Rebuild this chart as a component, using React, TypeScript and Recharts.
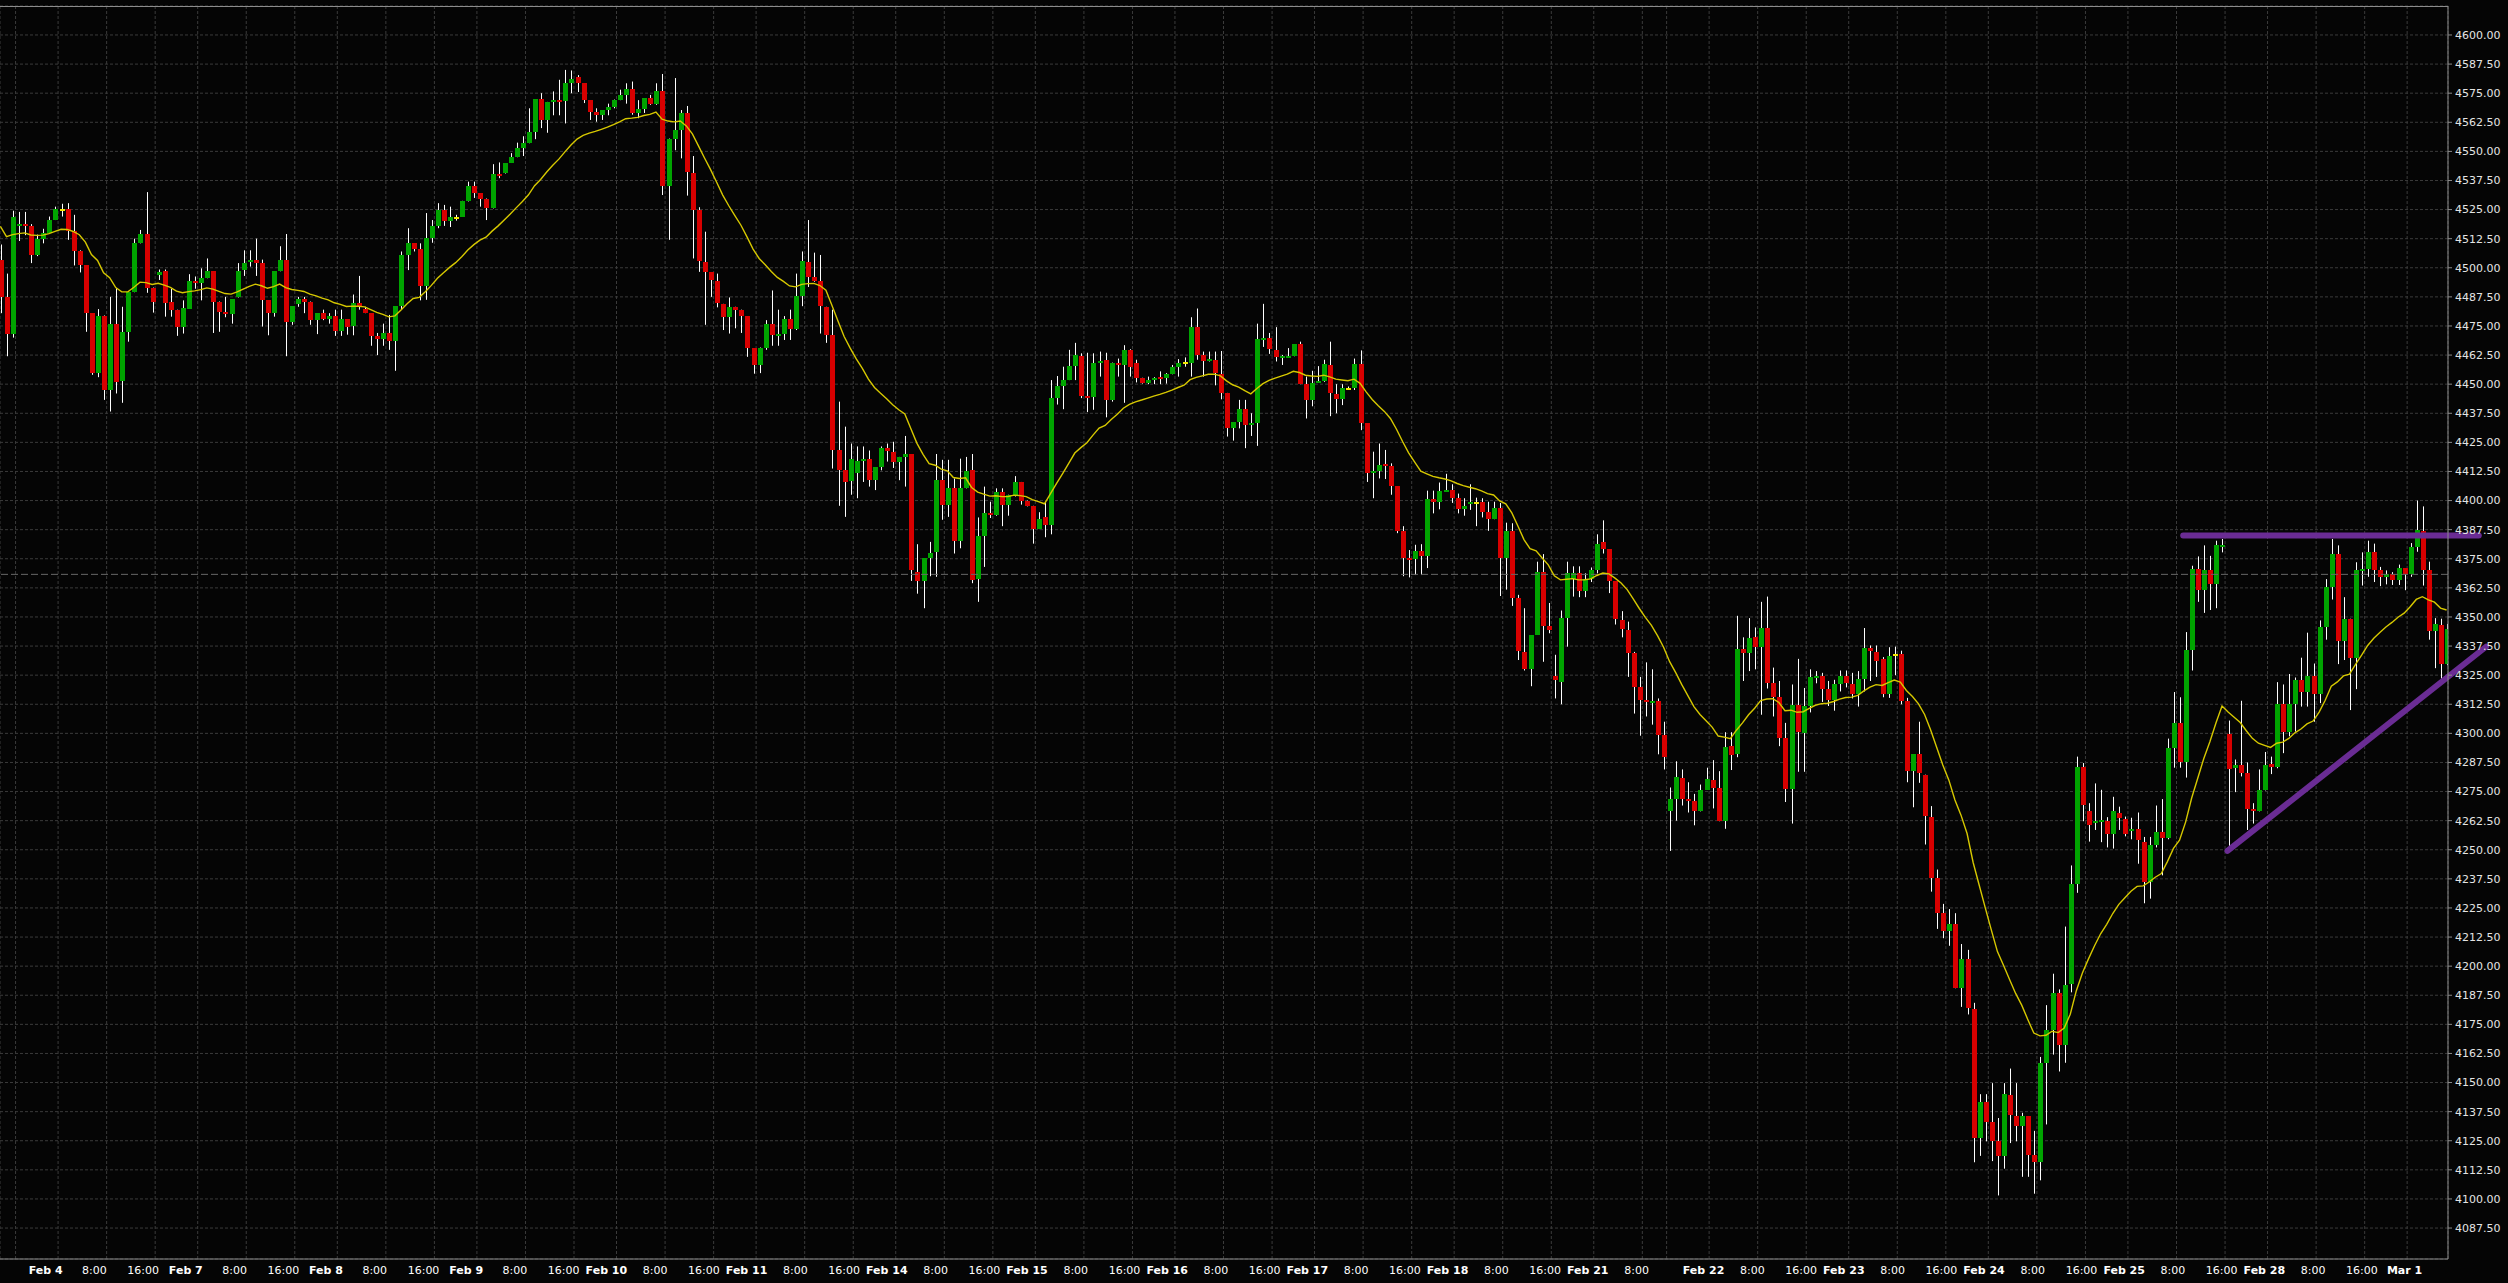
import { ComposedChart, Bar, Line, XAxis, YAxis, CartesianGrid, ReferenceLine } from "recharts";

// hourly candles [open, high, low, close], grouped by the session label they fall under
const feb03 = [
  [4503.5, 4510, 4480.5, 4487.25], [4487.25, 4497.5, 4462, 4471.75], [4471.75, 4524.5, 4470, 4522],
  [4518.25, 4524, 4511.5, 4519], [4519, 4524, 4514, 4517.75], [4517.75, 4518.75, 4502, 4505.5],
  [4505.5, 4514.25, 4505, 4512.5], [4512.5, 4516.75, 4510.5, 4515], [4515, 4522, 4514.75, 4520.5],
  [4520.5, 4526.25, 4520.5, 4525.25],
];
const feb04 = [
  [4525, 4527.5, 4522, 4525], [4525.25, 4527.75, 4512, 4515.75], [4515.75, 4522.75, 4501, 4507.25],
  [4507.25, 4507.5, 4498, 4501], [4501, 4501, 4472.5, 4480.75], [4480.5, 4480.5, 4454, 4455],
  [4455, 4482.25, 4453, 4479.25], [4479.25, 4479.5, 4443.25, 4447.5], [4447.5, 4487.5, 4438.25, 4475.75],
  [4475.75, 4491.25, 4446, 4451], [4451.5, 4483.25, 4442, 4472.5], [4472.5, 4489.75, 4468.25, 4489.5],
  [4489.5, 4512.5, 4489.5, 4510.5], [4510.5, 4516.25, 4510.5, 4514.5], [4514.5, 4532.5, 4489.25, 4491.5],
  [4491.5, 4491.5, 4480.75, 4485.5], [4497, 4499.25, 4494.75, 4498.25], [4498.5, 4499.25, 4479, 4485],
  [4485.25, 4491, 4479, 4482], [4482, 4482, 4470.75, 4474.75], [4474.75, 4486, 4471.75, 4482.75],
  [4482.5, 4497.25, 4482.5, 4494.25], [4494.25, 4496.25, 4491, 4493.5],
];
const feb07 = [
  [4493.5, 4499.75, 4486, 4495.5], [4495.5, 4504, 4495.5, 4498.5], [4498.5, 4498.5, 4472, 4485.5],
  [4485.5, 4485.5, 4472.5, 4481], [4481, 4487.5, 4478.75, 4480], [4480, 4486.5, 4476, 4486.5],
  [4487.25, 4502, 4487.25, 4498.5], [4499.25, 4507.5, 4496.5, 4502], [4502.5, 4507.5, 4500.5, 4503.25],
  [4503.25, 4512.5, 4496.5, 4502], [4502, 4503.5, 4474.75, 4486], [4486, 4486, 4471, 4480.75],
  [4480.75, 4498.5, 4479, 4498.5], [4498.5, 4509.25, 4498.5, 4503.5], [4503.5, 4514.5, 4462, 4476.75],
  [4476.5, 4483.5, 4475.5, 4483.5], [4484.25, 4487.5, 4483.25, 4486.5], [4486.5, 4487.5, 4480.5, 4485.5],
  [4485.5, 4485.5, 4475.5, 4477.75], [4477.75, 4480.5, 4471.5, 4480.5], [4480.5, 4482, 4477.5, 4478],
  [4478, 4480.5, 4476, 4479.25], [4479.25, 4482, 4470.75, 4473],
];
const feb08 = [
  [4473, 4482, 4470.75, 4478], [4478, 4478, 4471.25, 4474.75], [4475, 4488.5, 4471, 4484.75],
  [4484.75, 4496.5, 4482, 4483.25], [4482.25, 4483.25, 4480.5, 4480.5], [4480.5, 4480.5, 4466.5, 4470.5],
  [4470.5, 4472, 4462.5, 4469.5], [4469.5, 4476, 4466.5, 4472], [4472, 4479.75, 4464.75, 4468.75],
  [4468.75, 4483.5, 4455.75, 4483.5], [4483.5, 4507, 4482, 4505.5], [4505.5, 4517, 4499, 4510.5],
  [4510.5, 4510.5, 4507, 4508], [4508, 4510.5, 4486, 4492], [4492, 4523.5, 4486.25, 4513],
  [4513, 4520.5, 4510.75, 4518], [4518, 4527.75, 4517, 4525], [4525, 4527, 4518, 4520.25],
  [4520.25, 4526.25, 4517.5, 4521.75], [4521.5, 4522.75, 4520.25, 4521.5], [4522, 4528.75, 4522, 4528.75],
  [4528.75, 4537, 4528.5, 4535.25], [4535.25, 4537, 4530, 4532],
];
const feb09 = [
  [4532, 4532, 4526.25, 4529.75], [4529.75, 4529.75, 4520.5, 4525.75], [4525.5, 4544.5, 4525.5, 4540.25],
  [4540.25, 4545.25, 4538.5, 4539.5], [4540.5, 4545, 4540.5, 4545], [4545, 4549.25, 4545, 4547.5],
  [4547.5, 4553.75, 4547.5, 4551.5], [4551.5, 4556.5, 4548, 4553.5], [4553.5, 4568.5, 4553.5, 4558.5],
  [4558.5, 4572.5, 4555.25, 4572.5], [4572.5, 4575, 4560, 4563.5], [4563.5, 4571.25, 4558, 4571.25],
  [4571.25, 4575.75, 4565.5, 4572], [4572, 4580.75, 4565.5, 4571.5], [4571.5, 4585, 4562, 4579.5],
  [4579.5, 4584.75, 4575, 4581], [4581.75, 4582.75, 4575.5, 4579.25], [4579.25, 4579.25, 4570.75, 4572],
  [4572, 4572, 4563.5, 4567], [4567, 4568.5, 4562.75, 4565.5], [4565.5, 4567.75, 4563.5, 4567.75],
  [4567.75, 4570.5, 4565.5, 4569.25], [4569.25, 4572.25, 4568.5, 4572],
];
const feb10 = [
  [4572, 4576.5, 4572, 4574.25], [4574.25, 4579.25, 4570.5, 4576.75], [4576.75, 4580, 4565.75, 4566.5],
  [4566.5, 4572, 4564.25, 4568], [4568, 4572.75, 4566.5, 4572.75], [4572.75, 4574.25, 4570, 4570.5],
  [4570.5, 4579.25, 4570, 4576], [4576, 4583.25, 4531.25, 4535], [4535, 4555.5, 4512, 4555.5],
  [4555.5, 4581.5, 4550.5, 4559.25], [4559.25, 4567.75, 4547, 4566.5], [4566.5, 4569.5, 4531, 4541.25],
  [4540.5, 4548, 4504, 4525], [4525, 4526, 4498.25, 4503], [4502.5, 4515.5, 4475.5, 4498],
  [4498, 4498, 4487.5, 4494.75], [4494.25, 4497.5, 4483, 4485], [4484.5, 4484.5, 4473.25, 4479],
  [4479, 4487.25, 4471.75, 4483], [4483, 4483.25, 4474, 4482], [4482, 4482, 4472, 4479.25],
  [4479.25, 4479.25, 4461.75, 4465.5], [4465.5, 4465.5, 4454.5, 4458.25],
];
const feb11 = [
  [4458.25, 4465.75, 4454.75, 4465.75], [4465.75, 4477.5, 4464.75, 4476], [4476, 4490.25, 4466.5, 4471],
  [4470.75, 4482, 4466.5, 4471.5], [4471.5, 4479.25, 4469, 4478], [4478, 4482, 4469, 4473.5],
  [4473.5, 4497.5, 4473.25, 4488], [4488, 4507, 4483.5, 4503], [4502.5, 4520.5, 4491.75, 4496.25],
  [4496.25, 4506.5, 4494, 4494.5], [4494.5, 4505.5, 4471.75, 4483.5], [4483.25, 4483.25, 4467.75, 4471],
  [4471, 4482, 4413.75, 4421.75], [4421.75, 4442.5, 4397.75, 4413], [4413, 4431.75, 4393, 4408],
  [4408.5, 4424.5, 4402.5, 4417.75], [4412, 4423.25, 4401, 4417], [4417, 4423.25, 4408, 4417.75],
  [4417.75, 4421.5, 4406, 4409], [4409, 4414.25, 4404.5, 4414.25], [4414.25, 4423.25, 4413, 4422.5],
  [4422.5, 4424.5, 4416.75, 4421.5], [4421, 4425.25, 4414, 4416.75],
];
const feb14 = [
  [4416.75, 4418.75, 4408.75, 4418.5], [4418.5, 4427.75, 4406, 4420], [4420, 4420, 4365.5, 4370],
  [4369.5, 4381.25, 4360, 4365.25], [4365.25, 4375.25, 4353.75, 4375.25], [4375.25, 4382.25, 4367.5, 4377.5],
  [4378, 4420, 4367.25, 4408.75], [4408.75, 4417.5, 4391.75, 4398], [4398, 4417.5, 4393, 4405.5],
  [4405.5, 4409.5, 4377.25, 4382.75], [4382.75, 4418, 4379.5, 4405.5], [4405.5, 4418.75, 4405.25, 4412.75],
  [4413, 4420, 4364.5, 4366], [4366.25, 4392.75, 4356.5, 4384.75], [4384.75, 4406, 4371.5, 4394.5],
  [4394.5, 4399.5, 4392.5, 4393.75], [4393.75, 4405.25, 4393.5, 4403.5], [4403.5, 4405.25, 4389, 4398],
  [4398, 4402.5, 4393.5, 4402.5], [4402.5, 4410.5, 4401.75, 4408], [4408, 4408, 4398.25, 4400],
  [4400, 4400, 4397.5, 4397.75], [4397.75, 4397.75, 4381.5, 4387.75],
];
const feb15 = [
  [4388, 4395, 4387.75, 4392], [4392.75, 4399.5, 4384.25, 4389.5], [4389.5, 4451.75, 4385.5, 4444],
  [4444, 4453.5, 4441.25, 4449.25], [4449.25, 4457.5, 4439.25, 4451.75], [4451.75, 4464.75, 4451.75, 4457.75],
  [4457.75, 4467.75, 4451.75, 4462.5], [4462, 4463.25, 4444, 4445], [4445, 4463.5, 4438, 4444.5],
  [4444.5, 4463.25, 4439, 4459.25], [4459.25, 4464, 4453.25, 4459.75], [4460.5, 4463.5, 4435.75, 4443],
  [4443, 4459.25, 4442.5, 4459.25], [4459.25, 4461, 4453.25, 4458.25], [4458.25, 4466.75, 4442, 4464.5],
  [4464.5, 4465, 4453.25, 4457.25], [4459, 4460.5, 4450.75, 4452.75], [4452.75, 4452.75, 4450.25, 4450.5],
  [4450.5, 4453.25, 4450, 4452], [4452, 4453, 4450, 4452.75], [4453.25, 4455.5, 4450, 4452.5],
  [4452.5, 4454.75, 4450.25, 4454.5], [4454.5, 4458.25, 4454.25, 4457.25],
];
const feb16 = [
  [4457.25, 4460.75, 4453.25, 4459], [4459, 4461.5, 4457.5, 4459], [4459.25, 4478.75, 4453.25, 4474.5],
  [4474.5, 4482.5, 4460.5, 4462.5], [4462.5, 4464, 4453.25, 4459.75], [4459.75, 4464, 4459.75, 4460.75],
  [4460.5, 4464, 4449.5, 4454.75], [4454.5, 4464.25, 4443.5, 4446.25], [4446.25, 4446.25, 4427.5, 4431.25],
  [4431, 4433.75, 4425.75, 4433.75], [4433.75, 4443.25, 4431, 4439.5], [4439.25, 4443.25, 4422.5, 4432.25],
  [4432.25, 4437.5, 4427.75, 4433.25], [4433.25, 4476, 4423.5, 4469.5], [4469.5, 4484.5, 4466, 4470],
  [4470, 4472, 4463, 4465], [4464.5, 4474.5, 4459.75, 4461.75], [4461.75, 4462.5, 4458.25, 4462],
  [4461.75, 4465.5, 4461.75, 4462], [4462, 4467.25, 4462, 4467.25], [4467.25, 4468.25, 4450, 4450],
  [4450, 4453.25, 4435.25, 4443], [4443, 4455.75, 4440.5, 4450.5],
];
const feb17 = [
  [4451, 4457.75, 4450.5, 4451.5], [4451.5, 4460.5, 4451, 4458.75], [4458.25, 4468.25, 4436.25, 4446],
  [4445.75, 4450, 4437.5, 4443.5], [4443.5, 4450, 4441, 4448.25], [4448, 4449, 4447.5, 4448],
  [4448.25, 4461, 4447.5, 4458.75], [4458.75, 4464.5, 4430.25, 4433.5], [4433.25, 4433.25, 4408, 4411.75],
  [4411.75, 4421, 4401, 4412.5], [4412.5, 4424.5, 4409.5, 4415.25], [4415.5, 4421.75, 4409.25, 4415],
  [4415, 4416, 4402.5, 4406.25], [4406.25, 4406.25, 4386, 4387], [4387, 4389, 4367.5, 4375.25],
  [4375.25, 4378.75, 4367, 4374.5], [4374.75, 4381, 4368, 4378.5], [4378.5, 4381.25, 4368, 4376],
  [4376, 4404.25, 4371, 4400.5], [4400.5, 4404.25, 4394.5, 4399.5], [4399.5, 4407.75, 4396.25, 4404.25],
  [4404.25, 4411.5, 4404.25, 4404.5], [4404.5, 4407, 4399, 4401],
];
const feb18 = [
  [4401, 4403, 4394.5, 4396.25], [4396.25, 4401, 4393.5, 4397.5], [4398.5, 4407, 4396, 4399.5],
  [4399, 4401.25, 4389, 4399], [4399.5, 4401, 4392.75, 4395.25], [4395.25, 4399.5, 4387, 4392],
  [4392, 4399.5, 4392, 4396.75], [4396.75, 4399, 4359, 4375.25], [4375.25, 4390.5, 4361.75, 4387],
  [4387, 4390.25, 4354.75, 4358], [4358, 4359.5, 4331.5, 4335.5], [4335, 4353.75, 4327, 4327.5],
  [4327.5, 4342.25, 4320.25, 4342.25], [4342.25, 4373.75, 4342.25, 4369.5], [4369.5, 4377, 4330.75, 4346],
  [4346, 4356, 4343, 4344.5], [4324.5, 4333.75, 4315, 4323], [4322.25, 4352.75, 4312.5, 4349.5],
  [4349.5, 4373.75, 4337.25, 4368.75], [4366.5, 4371.75, 4358.75, 4368.75], [4368.75, 4371.75, 4358.5, 4361],
  [4361, 4368.75, 4358.5, 4366.25], [4366.25, 4371.25, 4365, 4370.25],
];
const feb21 = [
  [4370.25, 4385.5, 4368.75, 4381.5], [4382, 4391.5, 4377.25, 4379], [4379, 4379, 4360.25, 4365.25],
  [4365.25, 4365.25, 4346.75, 4349.25], [4348.5, 4352.5, 4341.25, 4345], [4344.5, 4348, 4324.25, 4334.5],
  [4334.5, 4335, 4308.5, 4319.75], [4319.75, 4324.25, 4299, 4314.5], [4314.5, 4330.5, 4307.25, 4313.75],
  [4313.75, 4327.5, 4303.75, 4314], [4314, 4315, 4291, 4299.5], [4299.25, 4305, 4284.5, 4289.75],
  [4266.5, 4276.75, 4249.5, 4272], [4272, 4288, 4262.5, 4281.25], [4281, 4284.5, 4269, 4272],
  [4272, 4279, 4266, 4271.25], [4271, 4274, 4260.5, 4266.75], [4266.75, 4278, 4266.5, 4275.75],
  [4275.75, 4285.25, 4275.75, 4280.5],
];
const feb22 = [
  [4280, 4288.5, 4267.75, 4276.5], [4276.5, 4283.75, 4262.25, 4262.25], [4262.25, 4300.5, 4259, 4294.25],
  [4294.5, 4300.5, 4284.25, 4290.75], [4291, 4350.5, 4289.75, 4336.25], [4336.25, 4341.25, 4322.5, 4334.5],
  [4334.5, 4349.5, 4326.75, 4341], [4341.25, 4345.5, 4327.5, 4337.25], [4337.25, 4356.5, 4308, 4345.25],
  [4345.25, 4358.75, 4319.25, 4321.5], [4321.5, 4328.25, 4307.25, 4315.75], [4315.75, 4322.5, 4294.5, 4298],
  [4298, 4304.5, 4270.5, 4276], [4276, 4321, 4261.25, 4312.25], [4312.25, 4332, 4283.5, 4300.5],
  [4300, 4319.5, 4283.5, 4311.75], [4311.75, 4327.5, 4309, 4324.25], [4324.25, 4326.75, 4321.5, 4324.75],
  [4324.75, 4326, 4313.5, 4319.25], [4319.25, 4322.5, 4311.75, 4314.5], [4314.5, 4323, 4309.75, 4321],
  [4321, 4327, 4318, 4324.75], [4324.75, 4327, 4319.75, 4321.75],
];
const feb23 = [
  [4321, 4326, 4315, 4317], [4317, 4326.75, 4311.5, 4323.5], [4323.5, 4345.25, 4318, 4336.75],
  [4336.75, 4337.75, 4322.5, 4335.25], [4335, 4337.75, 4324.25, 4331], [4332, 4332.75, 4315.5, 4317],
  [4317, 4337, 4315.25, 4333.25], [4333.5, 4337.25, 4325, 4333.5], [4334, 4335.5, 4312.5, 4314],
  [4314, 4315.25, 4279, 4284], [4284, 4291, 4268.25, 4291], [4291, 4305, 4278.75, 4283],
  [4282.25, 4282.25, 4252.25, 4264.5], [4264, 4268.75, 4232, 4238], [4238, 4241.5, 4216, 4222.75],
  [4222.75, 4226.75, 4212, 4215], [4215, 4224.5, 4208.75, 4218], [4218, 4222.75, 4190.5, 4190.5],
  [4190.5, 4209.5, 4182.5, 4203], [4203, 4207, 4179.25, 4182], [4181.5, 4184.25, 4115.75, 4126.25],
  [4126.25, 4145, 4118.5, 4141.75], [4141.75, 4145, 4124.75, 4133],
];
const feb24 = [
  [4133, 4149.75, 4116.25, 4124.75], [4124.75, 4134.75, 4101.5, 4118.5], [4118.5, 4149.75, 4113, 4145],
  [4144.5, 4156, 4124, 4136], [4135.5, 4149.75, 4124.75, 4131.25], [4131.25, 4137, 4109.5, 4135.5],
  [4135.5, 4135.5, 4109.5, 4118.75], [4118.75, 4129.25, 4102.25, 4115.75], [4115.75, 4161, 4108, 4158.5],
  [4158.5, 4183.25, 4132, 4172.5], [4172.5, 4196.75, 4162, 4188.5], [4188.5, 4190, 4154.75, 4166.25],
  [4166.25, 4217, 4158.5, 4192], [4192.25, 4243.25, 4188.75, 4235.5], [4235.5, 4290, 4231.5, 4285.75],
  [4285.75, 4287.25, 4262.25, 4269.25], [4266.5, 4270, 4253.5, 4260.75], [4261.75, 4278.5, 4258.5, 4262.25],
  [4262.25, 4275.75, 4253.25, 4262.75], [4262.5, 4264, 4251, 4256.75], [4256.75, 4272.75, 4250.5, 4266.5],
  [4266, 4268.5, 4258.5, 4263.75], [4263.25, 4264.25, 4255.75, 4256.75],
];
const feb25 = [
  [4258, 4263.75, 4254.5, 4258.75], [4258.75, 4266, 4244, 4254], [4253.5, 4255.5, 4227, 4236.25],
  [4236.25, 4255.5, 4229, 4252.25], [4252.25, 4269, 4251, 4257.5], [4257.5, 4271.75, 4239, 4255],
  [4255, 4297.75, 4254.5, 4293.5], [4293.5, 4317.75, 4285.25, 4304.5], [4304.5, 4315.5, 4285.25, 4287.5],
  [4287.5, 4343.5, 4281, 4335.75], [4335.75, 4372, 4327, 4370.5], [4370.5, 4376, 4356.5, 4361.5],
  [4361.5, 4380.75, 4351.75, 4370], [4370, 4376.25, 4353, 4364.25], [4364.25, 4382.75, 4353.75, 4380.75],
  [4380.75, 4383.5, 4377.75, 4381], [4299.75, 4305.5, 4250.75, 4284.75], [4285.25, 4288.75, 4274.75, 4286.25],
  [4286.25, 4314, 4281.5, 4283], [4283, 4287.5, 4258.5, 4267.5], [4267.5, 4270, 4261.25, 4266.75],
  [4266.75, 4284.5, 4266.5, 4275.75], [4275.75, 4292, 4275.5, 4286.25],
];
const feb28 = [
  [4286.75, 4290, 4282.5, 4285.75], [4285.75, 4322, 4285, 4312.75], [4312.75, 4321, 4291.5, 4300.75],
  [4300.75, 4325.5, 4298.75, 4312.75], [4312.75, 4324, 4300.75, 4323], [4323, 4332.5, 4311.5, 4317.75],
  [4317.75, 4343.25, 4311.5, 4324.75], [4324.75, 4330, 4305, 4317], [4317, 4348.5, 4313, 4345.5],
  [4345.5, 4366.25, 4340.25, 4362.75], [4362.75, 4383.5, 4357.5, 4377.25], [4377.25, 4380.75, 4329.75, 4339.75],
  [4339.75, 4358.5, 4331.5, 4349.25], [4349.25, 4349.25, 4310, 4332.5], [4332.5, 4373.5, 4319, 4370],
  [4370, 4377.75, 4363.5, 4370.5], [4370.5, 4382.75, 4367.25, 4377.75], [4377.75, 4381.5, 4365, 4370],
  [4370, 4371.5, 4363.25, 4367.25], [4367.25, 4370, 4364, 4368.25], [4368.25, 4369.25, 4363.75, 4366],
  [4366, 4372.5, 4363.75, 4371], [4371, 4371, 4361.5, 4368.5],
];
const mar01 = [
  [4368.5, 4381.75, 4367.25, 4380.25], [4380.25, 4400, 4378, 4387.5], [4387, 4397.5, 4363.5, 4370],
  [4370, 4373.75, 4340.25, 4344], [4344, 4349.5, 4328, 4347], [4346.5, 4349.25, 4323.5, 4330],
  [4330, 4347, 4329.25, 4345],
];

const sessions = [feb03, feb04, feb07, feb08, feb09, feb10, feb11, feb14, feb15, feb16, feb17, feb18, feb21, feb22, feb23, feb24, feb25, feb28, mar01];

// moving average: EMA 20 of close, starting from the value shown at the left edge
const emaPeriod = 20;
const emaSeed = 4521;

// time axis: grid positions (in candle index) and their labels
const tickIdx = [
  2.5, 9.5, 17.5, 25.5, 32.5, 40.5, 48.5, 55.5, 63.5, 71.5, 78.5, 86.5, 94.5, 101.5, 109.5, 117.5,
  124.5, 132.5, 140.5, 147.5, 155.5, 163.5, 170.5, 178.5, 186.5, 193.5, 201.5, 209.5, 216.5, 224.5, 232.5,
  239.5, 247.5, 255.5, 262.5, 270.5, 274.5, 281.5, 289.5, 297.5, 304.5, 312.5, 320.5, 327.5, 335.5, 343.5,
  350.5, 358.5, 366.5, 373.5, 381.5, 389.5, 396.5,
];
const tickText = [
  "", "Feb 4", "8:00", "16:00", "Feb 7", "8:00", "16:00", "Feb 8", "8:00", "16:00", "Feb 9", "8:00", "16:00",
  "Feb 10", "8:00", "16:00", "Feb 11", "8:00", "16:00", "Feb 14", "8:00", "16:00", "Feb 15", "8:00", "16:00",
  "Feb 16", "8:00", "16:00", "Feb 17", "8:00", "16:00", "Feb 18", "8:00", "16:00", "Feb 21", "8:00", "",
  "Feb 22", "8:00", "16:00", "Feb 23", "8:00", "16:00", "Feb 24", "8:00", "16:00", "Feb 25", "8:00", "16:00",
  "Feb 28", "8:00", "16:00", "Mar 1",
];

const priceTicks = [
  4087.5, 4100, 4112.5, 4125, 4137.5, 4150, 4162.5, 4175, 4187.5, 4200, 4212.5, 4225, 4237.5, 4250,
  4262.5, 4275, 4287.5, 4300, 4312.5, 4325, 4337.5, 4350, 4362.5, 4375, 4387.5, 4400, 4412.5, 4425,
  4437.5, 4450, 4462.5, 4475, 4487.5, 4500, 4512.5, 4525, 4537.5, 4550, 4562.5, 4575, 4587.5, 4600,
];

// drawn annotations (candle index, price)
const markerLevel = 4368.3;
const resistance = [{ x: 359.6, y: 4385 }, { x: 408.3, y: 4385 }];
const support = [{ x: 366.9, y: 4249.5 }, { x: 409.5, y: 4337.2 }];

const GREEN = "#00a400";
const RED = "#d80000";
const DOJI = "#f2e600";
const FONT = "DejaVu Sans, Verdana, sans-serif";

const candles = sessions.flat();
const alpha = 2 / (emaPeriod + 1);
let prevEma = emaSeed;
const rows = candles.map(([o, h, l, c], i) => {
  prevEma = prevEma + alpha * (c - prevEma);
  return { i, o, h, l, c, range: [l, h], ema: prevEma };
});

function Candle(props: any) {
  const { x, y, width, height, payload } = props;
  if (!payload) return null;
  const { o, h, l, c } = payload;
  const top = Math.min(y, y + height);
  const span = Math.abs(height);
  const py = (v: number) => (h === l ? top : top + ((h - v) / (h - l)) * span);
  const cx = Math.round(x + width / 2) + 0.5;
  const yo = py(o);
  const yc = py(c);
  const color = c > o ? GREEN : c < o ? RED : DOJI;
  const bTop = Math.min(yo, yc);
  const bH = Math.max(Math.abs(yo - yc), 2);
  return (
    <g>
      <line x1={cx} x2={cx} y1={top} y2={top + span} stroke="#ffffff" strokeWidth={1} />
      <rect x={cx - 2.5} y={c === o ? bTop - 1 : bTop} width={5} height={bH} fill={color} shapeRendering="crispEdges" />
    </g>
  );
}

function TimeTick(props: any) {
  const { x, y, payload } = props;
  const k = tickIdx.indexOf(payload.value);
  const text = k >= 0 ? tickText[k] : "";
  if (!text) return null;
  const isDate = /^[A-Z]/.test(text);
  const dx = -12.7 + 0.0042 * x;
  return (
    <text
      x={x + dx}
      y={y + 11}
      textAnchor="middle"
      dominantBaseline="central"
      fill="#ffffff"
      fontSize={11}
      fontWeight={isDate ? "bold" : "normal"}
      fontFamily={FONT}
    >
      {text}
    </text>
  );
}

export default function App() {
  return (
    <div style={{ position: "absolute", left: 0, top: 0, width: 2508, height: 1283, background: "#050505" }}>
      <ComposedChart width={2508} height={1283} data={rows} margin={{ top: 6, right: 0, bottom: 0, left: 0 }}>
        <CartesianGrid stroke="#3b3b3b" strokeDasharray="3 2" />
        <XAxis
          type="number"
          dataKey="i"
          scale="linear"
          domain={[-0.066, 403.229]}
          allowDataOverflow
          ticks={tickIdx}
          interval={0}
          tick={<TimeTick />}
          tickLine={false}
          tickSize={0}
          tickMargin={0}
          axisLine={{ stroke: "#8c8c8c" }}
          height={24}
        />
        <YAxis
          orientation="right"
          domain={[4074.2, 4612.45]}
          allowDataOverflow
          ticks={priceTicks}
          interval={0}
          width={60}
          tickSize={4}
          tickMargin={3}
          tickLine={{ stroke: "#8c8c8c" }}
          axisLine={{ stroke: "#8c8c8c" }}
          tick={{ fill: "#e4e4e4", fontSize: 11, fontFamily: FONT }}
          tickFormatter={(v: number) => v.toFixed(2)}
        />
        <ReferenceLine y={markerLevel} stroke="#686868" strokeDasharray="7 3" />
        <Bar dataKey="range" barSize={5} shape={<Candle />} isAnimationActive={false} />
        <Line type="linear" dataKey="ema" stroke="#d6c800" strokeWidth={1.4} dot={false} activeDot={false} isAnimationActive={false} />
        <ReferenceLine segment={resistance} stroke="#6a2c94" strokeWidth={6} strokeLinecap="round" ifOverflow="visible" />
        <ReferenceLine segment={support} stroke="#6a2c94" strokeWidth={6} strokeLinecap="round" ifOverflow="visible" />
      </ComposedChart>
      <div style={{ position: "absolute", left: 0, top: 6, width: 2448, height: 0, borderTop: "1px solid #8c8c8c" }} />
    </div>
  );
}
